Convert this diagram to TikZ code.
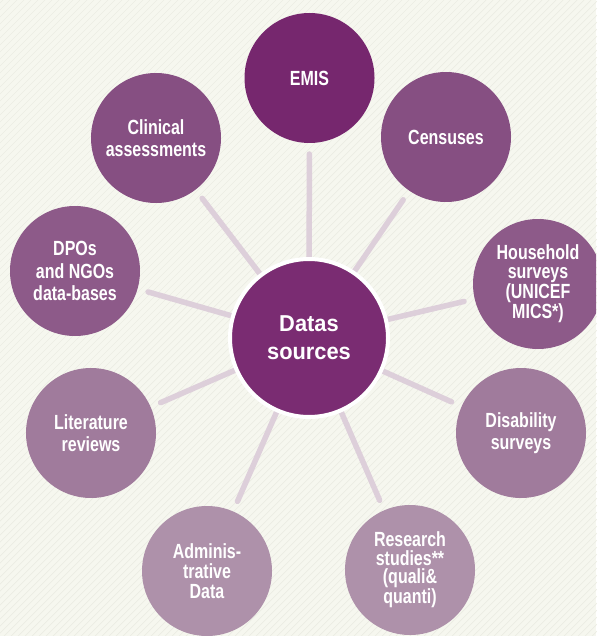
\documentclass[tikz,border=0pt]{standalone}
\usepackage{fontspec}
\usepackage{xcolor}
\usetikzlibrary{calc,backgrounds}
\newfontfamily\condfont[FakeStretch=0.78]{Liberation Sans}
\newfontfamily\hubfont[FakeStretch=0.95]{Liberation Sans}
\definecolor{paper}{HTML}{F6F7EF}
\definecolor{stripe}{HTML}{ECEDE3}
\definecolor{spokecol}{HTML}{DDCFDA}
\definecolor{hubcol}{HTML}{7A2C72}
\definecolor{lvlA}{HTML}{76276E}
\definecolor{lvlB}{HTML}{864F82}
\definecolor{lvlC}{HTML}{8D5A89}
\definecolor{lvlD}{HTML}{A07B9C}
\definecolor{lvlE}{HTML}{AE91AA}
\pgfdeclarelayer{paperlayer}
\pgfsetlayers{paperlayer,background,main}

\begin{document}
\begin{tikzpicture}[
  x=1pt, y=-1pt,
  src/.style={circle, minimum size=130pt, inner sep=0pt, align=center,
              text=white, font=\condfont\bfseries\fontsize{20.5}{22.5}\selectfont},
  tight/.style={font=\condfont\bfseries\fontsize{20.5}{18.6}\selectfont},
  hub/.style={circle, minimum size=158pt, inner sep=0pt, align=center,
              draw=white, line width=4pt, fill=hubcol, text=white,
              font=\hubfont\bfseries\fontsize{23}{28}\selectfont},
  spoke/.style={draw=spokecol, line width=5.5pt, line cap=round}
]
  \clip (0,0) rectangle (596,636);

  \node[hub] (hub) at (309,338) {Datas\\sources};
  \node[src, fill=lvlA] (emis) at (309.5,78) {EMIS};
  \node[src, fill=lvlB] (cens) at (446,137) {Censuses};
  \node[src, fill=lvlC, tight] (hh) at (538,284) {Household\\surveys\\(UNICEF\\MICS*)};
  \node[src, fill=lvlD] (dis) at (521,433) {Disability\\surveys};
  \node[src, fill=lvlE, tight] (res) at (410,570) {Research\\studies**\\(quali\&\\quanti)};
  \node[src, fill=lvlE, font=\condfont\bfseries\fontsize{20.5}{20}\selectfont] (adm) at (207,571) {Adminis-\\trative\\Data};
  \node[src, fill=lvlD] (lit) at (91,433) {Literature\\reviews};
  \node[src, fill=lvlC] (dpo) at (75,271) {DPOs\\and NGOs\\data-bases};
  \node[src, fill=lvlB] (clin) at (156,138) {Clinical\\assessments};

  \begin{pgfonlayer}{paperlayer}
    \fill[paper] (0,0) rectangle (596,636);
    \foreach \s in {-640,-633,...,600}
      \draw[stripe, line width=0.7pt] (\s,636) -- (\s+636,0);
  \end{pgfonlayer}
  \begin{pgfonlayer}{background}
    \foreach \n in {emis,cens,hh,dis,res,adm,lit,dpo,clin}
      \draw[spoke] (hub.center) -- ($(\n.center)!76pt!(hub.center)$);
  \end{pgfonlayer}
\end{tikzpicture}
\end{document}
